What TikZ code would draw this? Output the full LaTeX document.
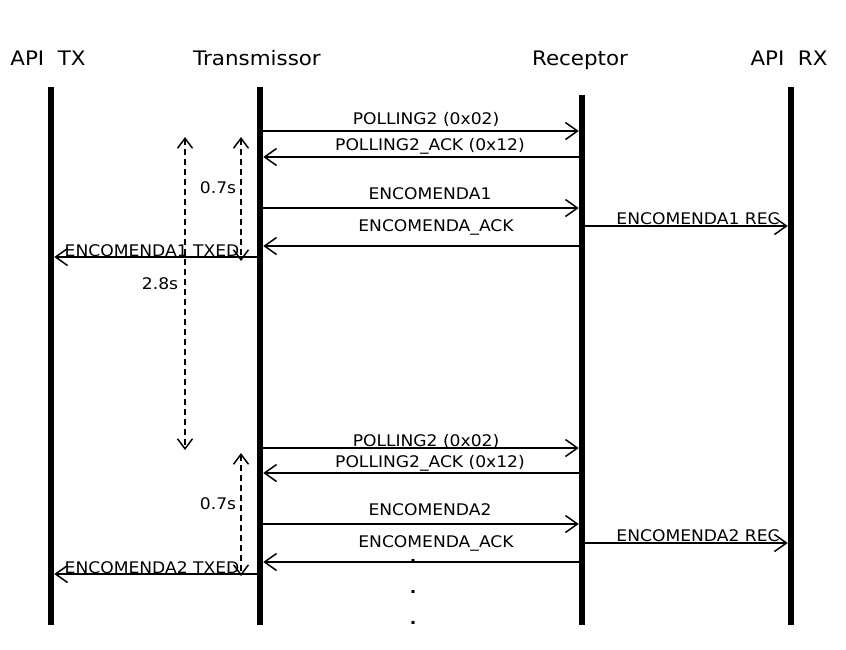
\documentclass[tikz,border=0pt]{standalone}
\usepackage{fontspec}
\setmainfont{DejaVu Sans}[FakeStretch=1.07]
\usetikzlibrary{arrows.meta}
\begin{document}
\begin{tikzpicture}[x=1pt,y=-1pt,
  life/.style={line width=6.5pt},
  tip/.tip={Straight Barb[length=12pt,width=17pt,line width=1.5pt]},
  ttip/.tip={Straight Barb[length=10pt,width=15pt,line width=1.5pt]},
  msg/.style={line width=1.5pt,-tip,shorten >=3.25pt,shorten <=3.25pt},
  tm/.style={line width=1.5pt,dash pattern=on 6pt off 4pt,ttip-ttip},
  lbl/.style={font=\fontsize{16}{19}\selectfont,inner sep=0pt,anchor=base},
  hdr/.style={font=\fontsize{20}{24}\selectfont,inner sep=0pt,anchor=base}
]
\useasboundingbox (0,0) rectangle (846,649);
% headers
\node[hdr] (hTX) at (48,65) {API\ \ TX};
\node[hdr] (hT) at (257,65) {Transmissor};
\node[hdr] (hR) at (580,65) {Receptor};
\node[hdr] (hRX) at (789,65) {API\ \ RX};
% lifelines
\coordinate (TX) at (51,87);  \coordinate (TXb) at (51,625);
\coordinate (T) at (260,87);  \coordinate (Tb) at (260,625);
\coordinate (R) at (582,95);  \coordinate (Rb) at (582,625);
\coordinate (RX) at (791,87); \coordinate (RXb) at (791,625);
\draw[life] (TX) -- (TXb);
\draw[life] (T) -- (Tb);
\draw[life] (R) -- (Rb);
\draw[life] (RX) -- (RXb);
% first cycle
\draw[msg] (T |- 0,131) -- (R |- 0,131);
\node[lbl] (l1) at (426,124) {POLLING2 (0x02)};
\draw[msg] (R |- 0,157) -- (T |- 0,157);
\node[lbl] (l2) at (430,150) {POLLING2\_ACK (0x12)};
\draw[msg] (T |- 0,208) -- (R |- 0,208);
\node[lbl] (l3) at (430,199) {ENCOMENDA1};
\draw[msg] (R |- 0,246) -- (T |- 0,246);
\node[lbl] (l4) at (436,231) {ENCOMENDA\_ACK};
\draw[msg] (R |- 0,226) -- (RX |- 0,226);
\node[lbl] (l5) at (698,224) {ENCOMENDA1 REC};
\draw[msg] (T |- 0,257) -- (TX |- 0,257);
\node[lbl] (l6) at (152,256) {ENCOMENDA1 TXED};
% timers
\coordinate (a1) at (241,137); \coordinate (a2) at (241,261);
\draw[tm] (a1) -- (a2);
\node[lbl] (t1) at (218,193) {0.7s};
\coordinate (b1) at (185,137); \coordinate (b2) at (185,450);
\draw[tm] (b1) -- (b2);
\node[lbl] (t2) at (160,289) {2.8s};
% second cycle
\draw[msg] (T |- 0,448) -- (R |- 0,448);
\node[lbl] (m1) at (426,446) {POLLING2 (0x02)};
\draw[msg] (R |- 0,473) -- (T |- 0,473);
\node[lbl] (m2) at (430,467) {POLLING2\_ACK (0x12)};
\draw[msg] (T |- 0,524) -- (R |- 0,524);
\node[lbl] (m3) at (430,515) {ENCOMENDA2};
\draw[msg] (R |- 0,562) -- (T |- 0,562);
\node[lbl] (m4) at (436,547) {ENCOMENDA\_ACK};
\draw[msg] (R |- 0,543) -- (RX |- 0,543);
\node[lbl] (m5) at (698,541) {ENCOMENDA2 REC};
\draw[msg] (T |- 0,574) -- (TX |- 0,574);
\node[lbl] (m6) at (152,573) {ENCOMENDA2 TXED};
\coordinate (c1) at (241,453); \coordinate (c2) at (241,576);
\draw[tm] (c1) -- (c2);
\node[lbl] (t3) at (218,509) {0.7s};
% dots
\node[lbl] (d1) at (413,562) {\bfseries .};
\node[lbl] (d2) at (413,593) {\bfseries .};
\node[lbl] (d3) at (413,624) {\bfseries .};
\end{tikzpicture}
\end{document}
